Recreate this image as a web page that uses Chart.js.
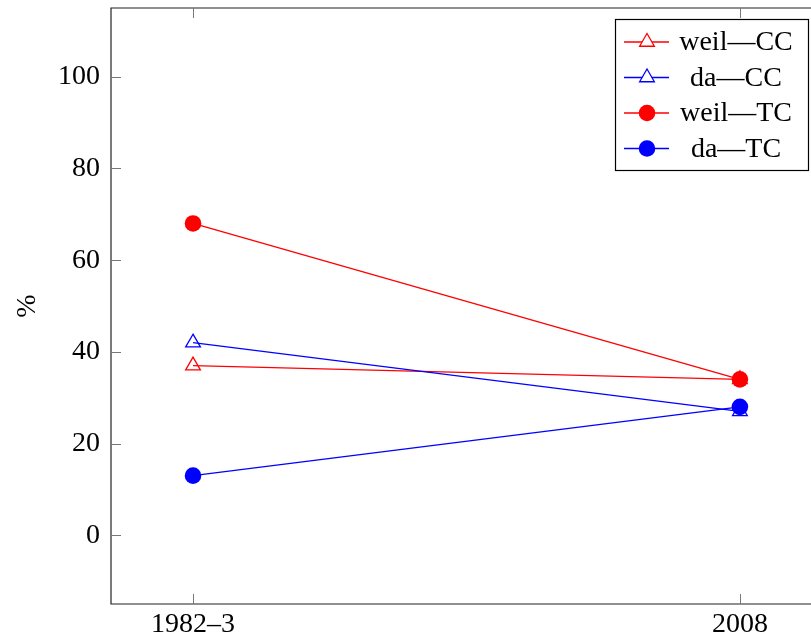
<!DOCTYPE html>
<html>
<head>
<meta charset="utf-8">
<script src="https://cdn.jsdelivr.net/npm/chart.js@4.4.0/dist/chart.umd.min.js"></script>
<style>
  html, body { margin: 0; padding: 0; background: #fff; }
</style>
</head>
<body>
<canvas id="myChart" width="811" height="639"></canvas>
<script>
// data
const periods = [0, 1];
const periodLabels = ['1982\u20133', '2008'];
const weilCC = [37, 34];
const daCC = [42, 27];
const weilTC = [68, 34];
const daTC = [13, 28];
const yTicks = [0, 20, 40, 60, 80, 100];
const seriesNames = ['weil\u2014CC', 'da\u2014CC', 'weil\u2014TC', 'da\u2014TC'];

const FONT = '"Liberation Serif", "DejaVu Serif", serif';
const RED = '#ff0000';
const BLUE = '#0000ff';

function pts(vals) {
  return vals.map((v, i) => ({ x: periods[i], y: v }));
}

function makeSet(name, vals, color, style, order) {
  const tri = style === 'triangle';
  return {
    label: name,
    data: pts(vals),
    borderColor: color,
    borderWidth: 1.3,
    pointStyle: style,
    pointRadius: tri ? 8.5 : 8.3,
    pointBorderWidth: tri ? 1.3 : 0,
    pointBorderColor: color,
    pointBackgroundColor: tri ? 'rgba(0,0,0,0)' : color,
    fill: false,
    tension: 0,
    order: order
  };
}

// axis box + inward ticks, pgfplots style
const framePlugin = {
  id: 'frame',
  beforeDatasetsDraw(chart) {
    const { ctx, chartArea: a, scales } = chart;
    ctx.save();
    ctx.strokeStyle = '#222';
    ctx.lineWidth = 1.2;
    ctx.beginPath();
    ctx.moveTo(a.right + 2, a.top);
    ctx.lineTo(a.left, a.top);
    ctx.lineTo(a.left, a.bottom);
    ctx.lineTo(a.right + 2, a.bottom);
    ctx.stroke();

    ctx.strokeStyle = '#777';
    ctx.lineWidth = 1;
    ctx.beginPath();
    yTicks.forEach(v => {
      const y = Math.round(scales.y.getPixelForValue(v)) + 0.5;
      ctx.moveTo(a.left, y);
      ctx.lineTo(a.left + 10, y);
    });
    periods.forEach(v => {
      const x = Math.round(scales.x.getPixelForValue(v)) + 0.5;
      ctx.moveTo(x, a.bottom);
      ctx.lineTo(x, a.bottom - 10);
      ctx.moveTo(x, a.top);
      ctx.lineTo(x, a.top + 10);
    });
    ctx.stroke();
    ctx.restore();
  }
};

// legend box in the top right corner
const legendPlugin = {
  id: 'boxLegend',
  afterDraw(chart) {
    const { ctx } = chart;
    const left = 615, top = 19, w = 193, h = 151;
    ctx.save();
    ctx.fillStyle = '#fff';
    ctx.fillRect(left, top, w, h);
    ctx.strokeStyle = '#000';
    ctx.lineWidth = 1.2;
    ctx.strokeRect(left + 0.5, top + 0.5, w, h);

    chart.data.datasets.forEach((ds, i) => {
      const y = 42 + i * 35.5;
      ctx.strokeStyle = ds.borderColor;
      ctx.lineWidth = 1.3;
      ctx.beginPath();
      ctx.moveTo(624, y);
      ctx.lineTo(669, y);
      ctx.stroke();
      const cx = 647;
      if (ds.pointStyle === 'triangle') {
        const r = 8.5;
        ctx.beginPath();
        ctx.moveTo(cx, y - r);
        ctx.lineTo(cx + r * 0.866, y + r * 0.5);
        ctx.lineTo(cx - r * 0.866, y + r * 0.5);
        ctx.closePath();
        ctx.fillStyle = '#fff';
        ctx.fill();
        ctx.stroke();
      } else {
        ctx.beginPath();
        ctx.arc(cx, y, 8.3, 0, Math.PI * 2);
        ctx.fillStyle = ds.borderColor;
        ctx.fill();
      }
      ctx.fillStyle = '#000';
      ctx.font = '28px ' + FONT;
      ctx.textAlign = 'center';
      ctx.textBaseline = 'middle';
      ctx.fillText(ds.label, 736, y + 1);
    });
    ctx.restore();
  }
};

const ctx = document.getElementById('myChart').getContext('2d');
const myChart = new Chart(ctx, {
  type: 'line',
  data: {
    datasets: [
      makeSet(seriesNames[0], weilCC, RED, 'triangle', 3),
      makeSet(seriesNames[1], daCC, BLUE, 'triangle', 2),
      makeSet(seriesNames[2], weilTC, RED, 'circle', 1),
      makeSet(seriesNames[3], daTC, BLUE, 'circle', 0)
    ]
  },
  options: {
    responsive: false,
    animation: false,
    devicePixelRatio: 1,
    layout: { autoPadding: false, padding: { top: 8, right: 0, left: 0, bottom: 0 } },
    plugins: {
      legend: { display: false },
      tooltip: { enabled: false }
    },
    scales: {
      x: {
        type: 'linear',
        min: -0.15,
        max: 1.13,
        afterBuildTicks: s => { s.ticks = periods.map(v => ({ value: v })); },
        afterFit: s => { s.height = 35; s.paddingLeft = 0; s.paddingRight = 0; },
        grid: { display: false },
        border: { display: false },
        ticks: {
          autoSkip: false,
          maxRotation: 0,
          padding: -4,
          color: '#000',
          font: { family: FONT, size: 28 },
          callback: (v, i) => periodLabels[i]
        }
      },
      y: {
        min: -15,
        max: 115,
        afterBuildTicks: s => { s.ticks = yTicks.map(v => ({ value: v })); },
        afterFit: s => { s.width = 111; s.paddingTop = 0; s.paddingBottom = 0; },
        grid: { display: false },
        border: { display: false },
        ticks: {
          padding: 3,
          color: '#000',
          font: { family: FONT, size: 28 }
        },
        title: {
          display: true,
          text: '%',
          color: '#000',
          font: { family: FONT, size: 28 },
          padding: { top: 11, bottom: 0 }
        }
      }
    }
  },
  plugins: [framePlugin, legendPlugin]
});
</script>
</body>
</html>
